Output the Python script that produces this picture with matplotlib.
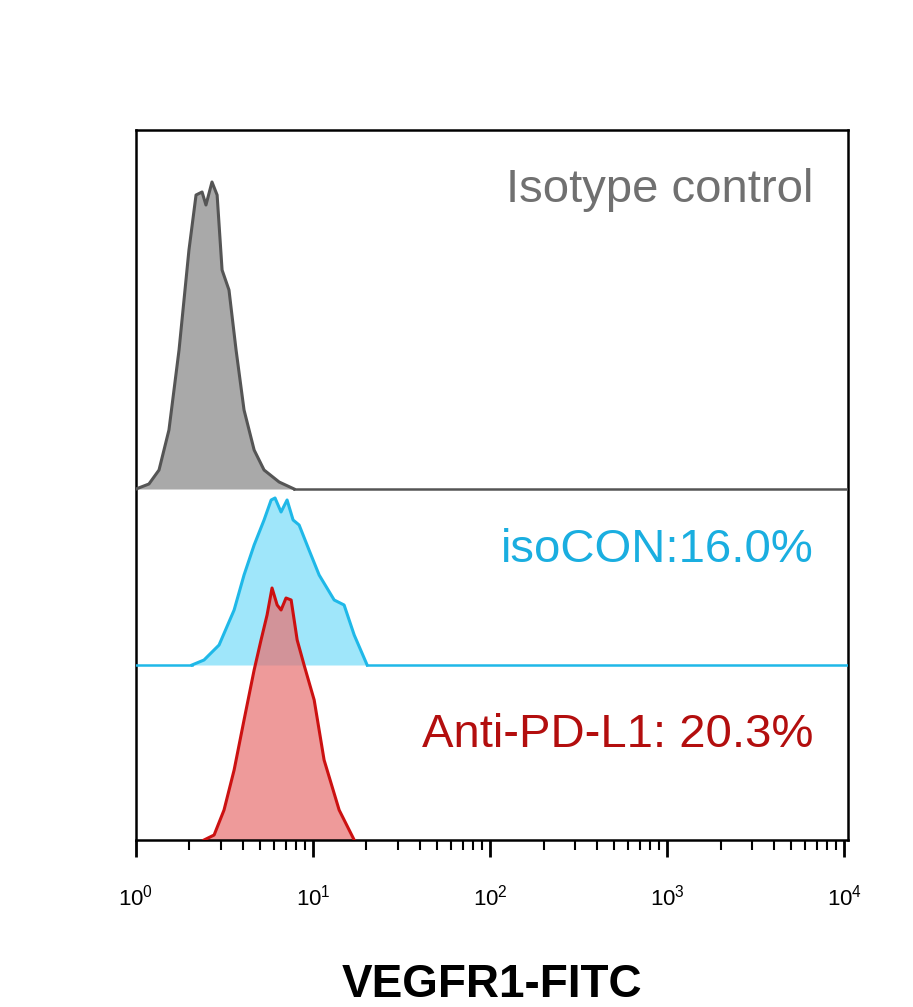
import numpy as np
import matplotlib
matplotlib.use("Agg")
import matplotlib.pyplot as plt
from matplotlib.ticker import LogLocator, LogFormatterSciNotation

plt.rcParams['font.family'] = 'Liberation Sans'
plt.rcParams['mathtext.fontset'] = 'custom'
plt.rcParams['mathtext.rm'] = 'Liberation Sans'

# log10 intensity and counts
gray_log = [0, .073, .130, .186, .243, .299, .339, .373, .395, .429, .458, .486, .525, .565, .610, .667, .723, .808, .893]
gray_cnt = [0, 5, 19, 59, 139, 239, 294, 297, 284, 307, 294, 219, 199, 139, 79, 39, 19, 7, 0]
cyan_log = [.316, .384, .469, .554, .610, .667, .723, .763, .785, .819, .853, .887, .921, .977, 1.034, 1.119, 1.175, 1.232, 1.305]
cyan_cnt = [0, 5, 20, 55, 90, 120, 145, 165, 167, 153, 165, 145, 140, 115, 90, 65, 60, 30, 0]
red_log = [.384, .441, .497, .554, .610, .667, .706, .740, .768, .797, .819, .847, .876, .910, .949, 1.006, 1.062, 1.147, 1.232]
red_cnt = [0, 5, 30, 70, 120, 170, 200, 225, 252, 235, 230, 242, 240, 200, 175, 140, 80, 30, 0]
offsets = [351, 175, 0]
labels = ["Isotype control", "isoCON:16.0%", "Anti-PD-L1: 20.3%"]

fig = plt.figure(figsize=(9.13, 10.07), dpi=100)
ax = fig.add_axes([136/913, 167/1007, 712/913, 710/1007])
ax.set_xscale('log')
ax.set_xlim(1, 10**4.02)
ax.set_ylim(0, 710)

specs = [(gray_log, gray_cnt, '#555555', '#a9a9a9', 1.0),
         (cyan_log, cyan_cnt, '#1fb8e8', '#9fe6fa', 1.0),
         (red_log, red_cnt, '#cc1111', '#e87070', 0.7)]
for (lg, cnt, lc, fc, al), off in zip(specs, offsets):
    x = np.power(10, np.array(lg))
    y = np.array(cnt) + off
    ax.fill_between(x, off, y, color=fc, alpha=al, lw=0, zorder=2)
    ax.plot(x, y, color=lc, lw=2.2, zorder=3)
    if off > 0:
        ax.plot([1, x[0]], [off, off], color=lc, lw=1.8, zorder=3)
        ax.plot([x[-1], 10**4.02], [off, off], color=lc, lw=1.8, zorder=3)

tcols = ['#707070', '#1aaee0', '#b30e0e']
typ = [650, 290, 105]
for t, c, yy in zip(labels, tcols, typ):
    ax.text(0.952, yy, t, transform=ax.get_yaxis_transform(), ha='right', va='center',
            fontsize=34, color=c)

ax.set_yticks([])
ax.xaxis.set_major_locator(LogLocator(base=10, numticks=10))
ax.xaxis.set_minor_locator(LogLocator(base=10, subs=np.arange(2, 10), numticks=20))
ax.xaxis.set_major_formatter(LogFormatterSciNotation())
ax.tick_params(axis='x', which='major', length=12, width=2, labelsize=16, pad=20)
ax.tick_params(axis='x', which='minor', length=7, width=1.5)
for s in ax.spines.values():
    s.set_linewidth(1.8)
ax.set_xlabel("VEGFR1-FITC", fontsize=33, fontweight='bold', labelpad=38)
fig.savefig("out.png", dpi=100)
